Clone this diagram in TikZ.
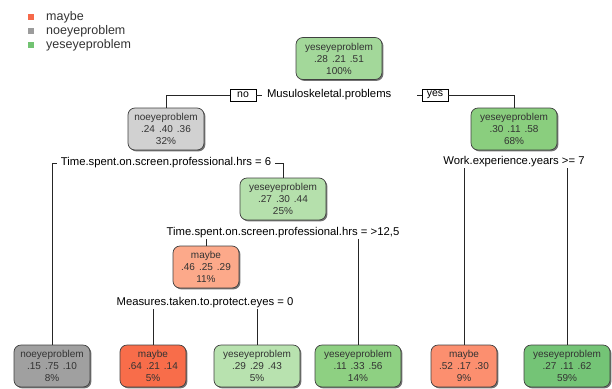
\documentclass[tikz,border=0pt]{standalone}
\usepackage{fontspec}
\setmainfont{Liberation Sans}
\usetikzlibrary{shadows}

\definecolor{legmaybe}{HTML}{F6694A}
\definecolor{legno}{HTML}{9C9C9C}
\definecolor{legyes}{HTML}{72C372}
% node fills
\definecolor{rootcol}{RGB}{163,216,154}
\definecolor{ntwocol}{RGB}{209,209,209}
\definecolor{nthreecol}{RGB}{138,206,126}
\definecolor{nfivecol}{RGB}{181,224,172}
\definecolor{ntencol}{RGB}{252,169,138}
\definecolor{nfourcol}{RGB}{160,160,160}
\definecolor{ntwentycol}{RGB}{248,109,74}
\definecolor{ntwoonecol}{RGB}{184,226,175}
\definecolor{nelevencol}{RGB}{142,208,130}
\definecolor{nsixcol}{RGB}{252,143,111}
\definecolor{nsevencol}{RGB}{116,196,118}

\newcommand{\probs}[3]{.#1\hspace{4pt}.#2\hspace{4pt}.#3}

\begin{document}
\begin{tikzpicture}[x=1pt,y=-1pt,
    box/.style={draw=black!75, line width=0.7pt, rounded corners=7pt, fill=#1, align=center,
        text=black!80, font=\fontsize{10}{12}\selectfont, minimum height=42pt, inner sep=2pt,
        drop shadow={shadow xshift=1.4pt, shadow yshift=-1.4pt, fill=black!55, opacity=1}},
    yesbox/.style={box=#1, minimum width=86pt},
    nobox/.style={box=#1, minimum width=76pt},
    maybebox/.style={box=#1, minimum width=66pt},
    split/.style={fill=white, inner xsep=4pt, inner ysep=1pt, font=\fontsize{11.3}{12}\selectfont},
    answer/.style={draw=black, fill=white, line width=0.7pt, inner sep=1pt, minimum width=26pt,
        minimum height=12pt, font=\fontsize{10.5}{11}\selectfont},
    branch/.style={line width=0.8pt, black!85}]

    \useasboundingbox (0,0) rectangle (612,388);

    % legend
    \foreach \t/\c [count=\i] in {maybe/legmaybe, noeyeproblem/legno, yeseyeproblem/legyes}{
        \node[fill=\c, minimum size=6pt, inner sep=0pt] (sq\i) at (31,3+14*\i) {};
        \node[anchor=west, inner sep=0pt, text=black!80, font=\fontsize{12.5}{13}\selectfont] (leg\i) at (46,3+14*\i) {\t};
    }

    % boxes
    \node[yesbox=rootcol] (root) at (339,58.5) {yeseyeproblem\\\probs{28}{21}{51}\\100\%};
    \node[nobox=ntwocol] (n2) at (166,129) {noeyeproblem\\\probs{24}{40}{36}\\32\%};
    \node[yesbox=nthreecol] (n3) at (514,129) {yeseyeproblem\\\probs{30}{11}{58}\\68\%};
    \node[yesbox=nfivecol] (n5) at (283,199) {yeseyeproblem\\\probs{27}{30}{44}\\25\%};
    \node[maybebox=ntencol] (n10) at (206,267) {maybe\\\probs{46}{25}{29}\\11\%};

    % leaves
    \node[nobox=nfourcol] (n4) at (52,366) {noeyeproblem\\\probs{15}{75}{10}\\8\%};
    \node[maybebox=ntwentycol] (n20) at (153,366) {maybe\\\probs{64}{21}{14}\\5\%};
    \node[yesbox=ntwoonecol] (n21) at (257,366) {yeseyeproblem\\\probs{29}{29}{43}\\5\%};
    \node[yesbox=nelevencol] (n11) at (358,366) {yeseyeproblem\\\probs{11}{33}{56}\\14\%};
    \node[maybebox=nsixcol] (n6) at (464,366) {maybe\\\probs{52}{17}{30}\\9\%};
    \node[yesbox=nsevencol] (n7) at (567,366) {yeseyeproblem\\\probs{27}{11}{62}\\59\%};

    % split labels
    \node[split, text width=145pt, align=left, inner xsep=5pt] (s1) at (339.5,95) {Musuloskeletal.problems};
    \node[answer] (no) at (243,95) {no};
    \node[answer] (yes) at (435,95) {yes};
    \node[split] (s2) at (166,163) {Time.spent.on.screen.professional.hrs = 6};
    \node[split] (s3) at (514,162) {Work.experience.years >= 7};
    \node[split] (s5) at (283,233) {Time.spent.on.screen.professional.hrs = >12,5};
    \node[split] (s10) at (205,303) {Measures.taken.to.protect.eyes = 0};

    % branches
    \draw[branch] (n2.north) |- (no.west);
    \draw[branch] (no.east) -- (s1.west);
    \draw[branch] (s1.east) -- (yes.west);
    \draw[branch] (yes.east) -| (n3.north);
    \draw[branch] (n4.north) |- (s2.west);
    \draw[branch] (n5.north) |- (s2.east);
    \foreach \c/\s in {n6/s3, n7/s3, n10/s5, n11/s5, n20/s10, n21/s10}
        \draw[branch] (\c.north) -- (\c.north |- \s.south);

\end{tikzpicture}
\end{document}
